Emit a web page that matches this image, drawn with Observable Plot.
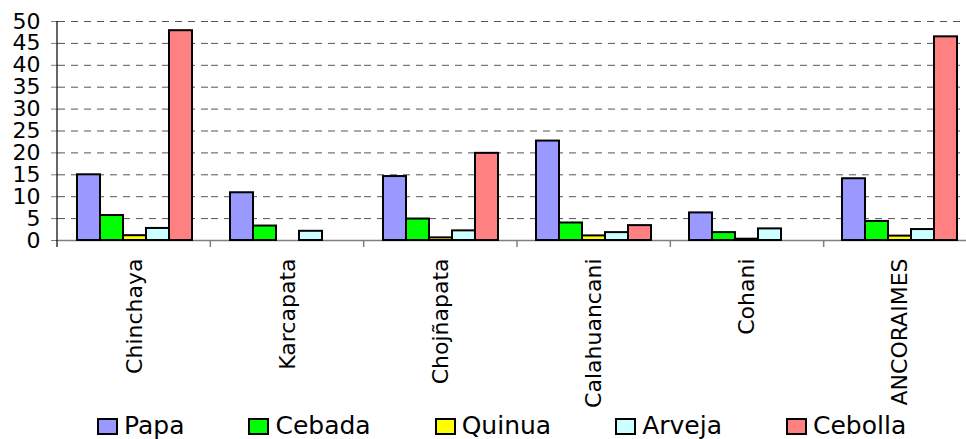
<!DOCTYPE html>
<html><head><meta charset="utf-8">
<script src="https://cdn.jsdelivr.net/npm/d3@7"></script>
<script src="https://cdn.jsdelivr.net/npm/@observablehq/plot@0.6"></script>
<style>
html,body{margin:0;padding:0;background:#fff;overflow:hidden;}
#wrap{position:relative;width:966px;height:439px;overflow:hidden;}
#legend{position:absolute;left:97px;top:414px;display:flex;align-items:center;gap:64px;font-family:"DejaVu Sans";font-size:25px;line-height:24px;color:#000;}
.item{display:flex;align-items:center;gap:6px;}
.sw{width:17px;height:13px;border:2px solid #000;}
</style></head><body>
<div id="wrap"></div>
<script>
const categories = ["Chinchaya","Karcapata","Chojñapata","Calahuancani","Cohani","ANCORAIMES"];
const series = ["Papa","Cebada","Quinua","Arveja","Cebolla"];
const colors = ["#9999FF","#00FF00","#FFFF00","#CCFFFF","#FF8080"];
const papa    = [15.0, 10.9, 14.6, 22.7, 6.3, 14.1];
const cebada  = [5.7, 3.3, 4.9, 4.0, 1.8, 4.35];
const quinua  = [1.1, 0, 0.6, 1.05, 0.3, 1.0];
const arveja  = [2.75, 2.1, 2.2, 1.8, 2.65, 2.5];
const cebolla = [47.9, 0, 19.9, 3.4, 0, 46.5];
const yTicks = [0,5,10,15,20,25,30,35,40,45,50];

const values = [papa, cebada, quinua, arveja, cebolla];
const rows = [];
categories.forEach((c, i) => series.forEach((s, j) => {
  if (values[j][i] > 0) rows.push({cat: c, ser: s, v: values[j][i]});
}));

const W = 966, H = 439;
const chart = Plot.plot({
  width: W, height: H,
  marginLeft: 57, marginTop: 21, marginBottom: 199, marginRight: -11,
  style: {fontFamily: "DejaVu Sans", fontSize: "22px", color: "#000", background: "#fff", overflow: "hidden"},
  fx: {domain: categories, padding: 0, axis: null, label: null},
  x: {domain: series, paddingInner: 0, paddingOuter: 0.76, axis: null},
  y: {domain: [0, 50], axis: null},
  color: {domain: series, range: colors},
  marks: [
    Plot.gridY(yTicks.filter(t => t > 0), {stroke: "#555", strokeOpacity: 1, strokeWidth: 1, strokeDasharray: "7,6"}),
    Plot.ruleY([0], {stroke: "#808080", strokeWidth: 1.5}),
    Plot.barY(rows, {fx: "cat", x: "ser", y: "v", fill: "ser", stroke: "#000", strokeWidth: 2, inset: 0}),
    Plot.axisY(yTicks, {tickSize: 7, tickPadding: 11, stroke: "#808080", fill: "#000", fontSize: 22, label: null}),
    Plot.axisFx({anchor: "bottom", tickSize: 0, tickPadding: 18, tickRotate: -90, fontSize: 22, fill: "#000", label: null})
  ]
});

// y axis line and category boundary ticks, from the library's scales
const fxs = chart.scale("fx"), ys = chart.scale("y");
const svg = d3.select(chart.tagName.toLowerCase() === "svg" ? chart : chart.querySelector("svg"));
const [r0, r1] = fxs.range;
const step = (r1 - r0) / categories.length;
const yb = ys.range[0], yt = ys.range[1];
const g = svg.append("g");
for (let i = 1; i <= categories.length; i++) {
  g.append("line").attr("x1", r0 + i*step).attr("x2", r0 + i*step)
    .attr("y1", yb).attr("y2", yb + 7).attr("stroke", "#808080").attr("stroke-width", 1.5);
}
g.append("line").attr("x1", r0).attr("x2", r0).attr("y1", yt).attr("y2", yb + 7)
  .attr("stroke", "#000").attr("stroke-width", 1.2);

const wrap = document.getElementById("wrap");
wrap.appendChild(chart);
const leg = document.createElement("div");
leg.id = "legend";
series.forEach((s, j) => {
  const it = document.createElement("div"); it.className = "item";
  const sw = document.createElement("div"); sw.className = "sw"; sw.style.background = colors[j];
  const tx = document.createElement("span"); tx.textContent = s;
  it.appendChild(sw); it.appendChild(tx); leg.appendChild(it);
});
wrap.appendChild(leg);
</script></body></html>
